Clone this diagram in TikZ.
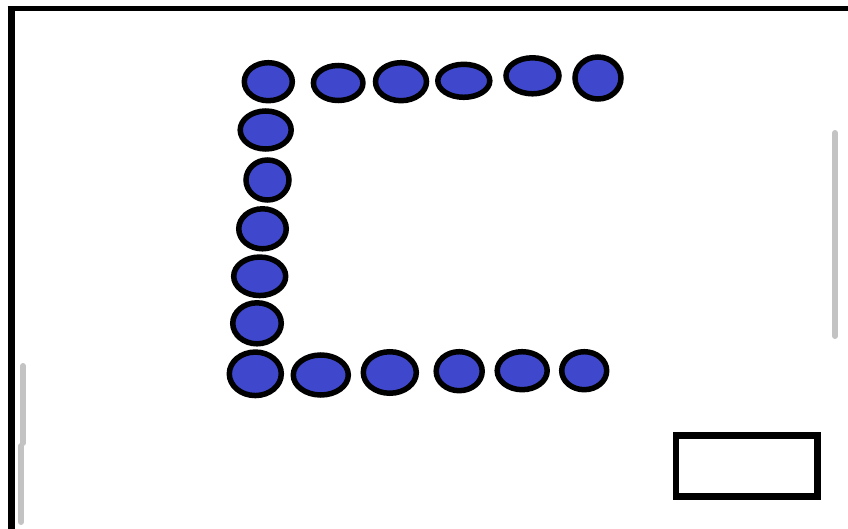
\documentclass[tikz,border=0pt]{standalone}
\usetikzlibrary{shapes.geometric}
\definecolor{dotblue}{RGB}{63,72,204}
\definecolor{lgray}{RGB}{195,195,195}
\begin{document}
\begin{tikzpicture}[x=1pt,y=-1pt,
  dot/.style={ellipse,draw=black,fill=dotblue,line width=5.5pt,inner sep=0pt},
  wall/.style={draw=black,line cap=butt},
  glass/.style={draw=lgray,line width=6pt,line cap=round}]
\useasboundingbox (0,0) rectangle (848,529);
\fill[white] (0,0) rectangle (848,529);
% walls
\draw[wall,line width=7pt] (11,529) -- (11,6.5);
\draw[wall,line width=5pt] (7.5,9) -- (848,9);
% gray lines
\coordinate (g1a) at (23,366); \coordinate (g1b) at (23,443);
\coordinate (g2a) at (21,446); \coordinate (g2b) at (21,522);
\coordinate (g3a) at (835,133); \coordinate (g3b) at (835,336);
\draw[glass] (g1a) -- (g1b);
\draw[glass] (g2a) -- (g2b);
\draw[glass] (g3a) -- (g3b);
% rectangle
\node[draw=black,line width=6.5pt,minimum width=141.5pt,minimum height=61pt,inner sep=0pt] (box) at (746.7,465.8) {};
% top row
\node[dot,minimum width=48pt,minimum height=38pt] (t1) at (268.3,81.7) {};
\node[dot,minimum width=49.5pt,minimum height=35pt] (t2) at (338.2,83) {};
\node[dot,minimum width=51pt,minimum height=38pt] (t3) at (401,81.7) {};
\node[dot,minimum width=52pt,minimum height=33pt] (t4) at (463.8,80.8) {};
\node[dot,minimum width=53pt,minimum height=36pt] (t5) at (532.5,75.8) {};
\node[dot,minimum width=46pt,minimum height=42pt] (t6) at (598,78) {};
% left column
\node[dot,minimum width=51pt,minimum height=38pt] (l1) at (265.7,130) {};
\node[dot,minimum width=43pt,minimum height=40pt] (l2) at (267.5,180) {};
\node[dot,minimum width=47.5pt,minimum height=40pt] (l3) at (262.5,228.8) {};
\node[dot,minimum width=52pt,minimum height=38.5pt] (l4) at (259.7,276.3) {};
\node[dot,minimum width=48.5pt,minimum height=41pt] (l5) at (257,323.3) {};
% bottom row
\node[dot,minimum width=52pt,minimum height=43.5pt] (b1) at (255.3,373.8) {};
\node[dot,minimum width=55pt,minimum height=40pt] (b2) at (320.8,375) {};
\node[dot,minimum width=53pt,minimum height=41.5pt] (b3) at (389.8,372.5) {};
\node[dot,minimum width=46pt,minimum height=39pt] (b4) at (459.2,371.2) {};
\node[dot,minimum width=50pt,minimum height=38pt] (b5) at (522.2,370.7) {};
\node[dot,minimum width=45pt,minimum height=38pt] (b6) at (584.2,370.7) {};
\end{tikzpicture}
\end{document}
